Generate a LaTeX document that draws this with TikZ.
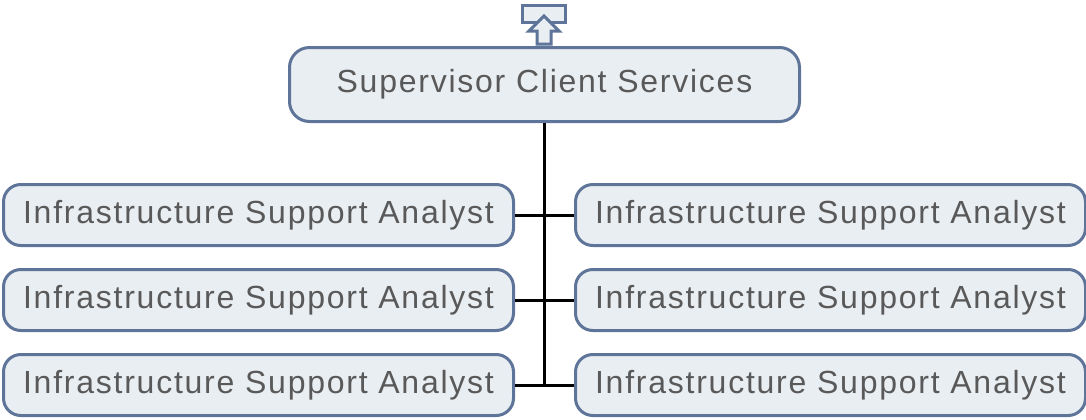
\documentclass[tikz,border=0pt]{standalone}
\usepackage{fontspec}
\setmainfont[LetterSpace=5.5]{Liberation Sans}
\usetikzlibrary{positioning}
\definecolor{boxfill}{RGB}{233,238,242}
\definecolor{boxline}{RGB}{94,116,153}
\definecolor{textgray}{RGB}{89,89,89}

\begin{document}
\begin{tikzpicture}[
    x=0.75pt, y=-0.75pt,
    node distance=15.75pt and 44.25pt,
    role/.style={rectangle, draw=boxline, fill=boxfill, line width=2.25pt, rounded corners=13pt, minimum width=382.5pt, minimum height=45.75pt, inner sep=0pt, text=textgray, font=\fontsize{24}{28}\selectfont},
    head/.style={role, minimum height=55.5pt, rounded corners=15pt},
    link/.style={draw, line width=2.25pt}
]
\useasboundingbox (0,0) rectangle (1086,419);

% Nodes
\node [head] (super) at (544.5,84.5) {Supervisor Client Services};
\node [role] (isa1) at (258.5,215) {Infrastructure Support Analyst};
\node [role, below=of isa1] (isa2) {Infrastructure Support Analyst};
\node [role, below=of isa2] (isa3) {Infrastructure Support Analyst};
\node [role, right=of isa1] (isa4) {Infrastructure Support Analyst};
\node [role, right=of isa2] (isa5) {Infrastructure Support Analyst};
\node [role, right=of isa3] (isa6) {Infrastructure Support Analyst};

% Up icon
\draw [boxline, fill=boxfill, line width=2.25pt] (522.5,5.5) rectangle (565.5,22.5);
\draw [boxline, fill=boxfill, line width=2.25pt] (544,16) -- (559,31) -- (551,31) -- (551,44) -- (537,44) -- (537,31) -- (529,31) -- cycle;

% Lines
\path [link] (super.south) -- (super.south |- isa3.east);
\path [link] (isa1) -- (isa4);
\path [link] (isa2) -- (isa5);
\path [link] (isa3) -- (isa6);

\end{tikzpicture}
\end{document}
